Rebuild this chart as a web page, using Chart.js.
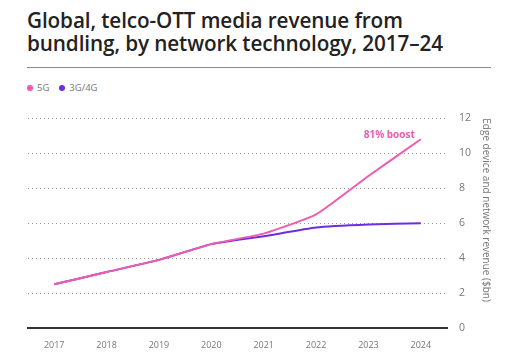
<!DOCTYPE html>
<html>
<head>
<meta charset="utf-8">
<script src="https://cdn.jsdelivr.net/npm/chart.js@4.4.1/dist/chart.umd.min.js"></script>
<style>
  html, body { margin: 0; padding: 0; background: #fff; }
  body { width: 516px; height: 357px; position: relative; overflow: hidden; font-family: "Open Sans", sans-serif; }
  #title { position: absolute; left: 27px; top: 9px; font-size: 20.7px; font-weight: 600; line-height: 23px; color: #222; letter-spacing: -0.1px; white-space: nowrap; }
  #rule { position: absolute; left: 27px; top: 67px; width: 464px; height: 0; border-top: 1.5px solid #8a8a8a; }
  #legend { position: absolute; left: 27px; top: 81px; font-size: 9.5px; color: #777; display: flex; gap: 10px; }
  #legend span { display: inline-flex; align-items: center; }
  #legend i { display: inline-block; width: 6px; height: 6px; border-radius: 50%; margin-right: 4px; }
  #wrap { position: absolute; left: 0; top: 100px; width: 516px; height: 257px; }
</style>
</head>
<body>
<div id="title">Global, telco-OTT media revenue from<br>bundling, by network technology, 2017–24</div>
<div id="rule"></div>
<div id="legend"><span><i style="background:#ef5bb0"></i>5G</span><span><i style="background:#6b2ee0"></i>3G/4G</span></div>
<div id="wrap"><canvas id="c"></canvas></div>
<script>
const years = ["2017", "2018", "2019", "2020", "2021", "2022", "2023", "2024"];
const revenue5G = [2.5, 3.2, 3.9, 4.8, 5.4, 6.5, 8.7, 10.8];
const revenue3G4G = [2.5, 3.2, 3.9, 4.8, 5.25, 5.75, 5.92, 6.0];
const yTicks = [0, 2, 4, 6, 8, 10, 12];
const boostLabel = "81% boost";
const yTitle = "Edge device and network revenue ($bn)";

const PINK = "#ef5bb0";
const PURPLE = "#6b2ee0";

const boostPlugin = {
  id: "boost",
  afterDatasetsDraw(chart) {
    const {ctx, scales} = chart;
    const last = revenue5G.length - 1;
    const x = scales.x.getPixelForValue(last);
    const y = scales.y.getPixelForValue(revenue5G[last]);
    ctx.save();
    ctx.font = "bold 10px 'Open Sans'";
    ctx.fillStyle = PINK;
    ctx.textAlign = "right";
    ctx.textBaseline = "middle";
    ctx.fillText(boostLabel, x - 6, y - 4);
    ctx.restore();
  }
};

new Chart(document.getElementById("c"), {
  type: "line",
  data: {
    labels: years,
    datasets: [
      { label: "5G", data: revenue5G, borderColor: PINK, backgroundColor: PINK, borderWidth: 2, pointRadius: 0, tension: 0.15, order: 0 },
      { label: "3G/4G", data: revenue3G4G, borderColor: PURPLE, backgroundColor: PURPLE, borderWidth: 2, pointRadius: 0, tension: 0.15, order: 1 }
    ]
  },
  options: {
    responsive: true,
    maintainAspectRatio: false,
    animation: false,
    layout: { padding: { left: 28, top: 18, right: 20, bottom: 0 } },
    plugins: { legend: { display: false }, tooltip: { enabled: false } },
    scales: {
      x: {
        offset: true,
        grid: { display: false },
        border: { display: true, color: "#333", width: 2 },
        ticks: { color: "#777", font: { family: "Open Sans", size: 9 }, padding: 4, maxRotation: 0 },
        afterFit(s) { s.height = 29; }
      },
      y: {
        position: "right",
        min: 0, max: 12,
        afterBuildTicks(s) { s.ticks = yTicks.map(v => ({ value: v })); },
        grid: {
          drawTicks: false,
          color: (c) => c.tick && c.tick.value === 0 ? "rgba(0,0,0,0)" : "#999",
          lineWidth: 1
        },
        border: { display: false, dash: [1, 3] },
        ticks: { color: "#777", font: { family: "Open Sans", size: 10.5 }, padding: 12 },
        title: { display: true, align: "end", text: yTitle, color: "#777", font: { family: "Open Sans", size: 10 }, padding: { top: 4, bottom: 4 } },
        afterFit(s) { s.width = 49; }
      }
    }
  },
  plugins: [boostPlugin]
});
</script>
</body>
</html>
